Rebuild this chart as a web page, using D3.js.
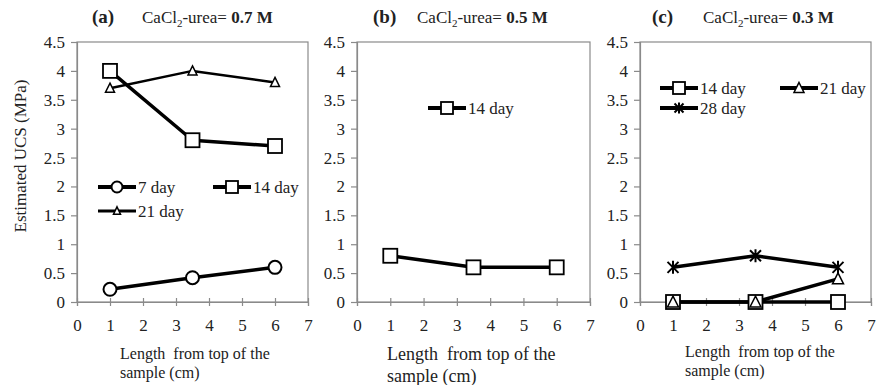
<!DOCTYPE html>
<html>
<head>
<meta charset="utf-8">
<script src="https://cdn.jsdelivr.net/npm/d3@7"></script>
<style>
  body { margin: 0; background: #fff; }
  svg text { font-family: "Liberation Serif", "DejaVu Serif", "Times New Roman", serif; }
</style>
</head>
<body>
<div id="chart"></div>
<script>
// Data
const positions = [1, 3.5, 6];
const xTicks = [0, 1, 2, 3, 4, 5, 6, 7];
const yTicks = [0, 0.5, 1, 1.5, 2, 2.5, 3, 3.5, 4, 4.5];

const a7day = [0.22, 0.42, 0.6];
const a14day = [4.0, 2.8, 2.7];
const a21day = [3.7, 4.0, 3.8];

const b14day = [0.8, 0.6, 0.6];

const c14day = [0, 0, 0];
const c21day = [0, 0, 0.4];
const c28day = [0.6, 0.8, 0.6];

const panels = [
  {
    label: "(a)", conc: "0.7 M", left: 77, right: 308,
    titleX: 92, concX: 142, yAxisLabel: true,
    xLabelX: 120, xLabelY: 354, xLabelSize: 16,
    series: [
      { name: "7 day", values: a7day, marker: "circle", width: 3.5 },
      { name: "14 day", values: a14day, marker: "square", width: 3.5 },
      { name: "21 day", values: a21day, marker: "triangleSmall", width: 2.5 }
    ],
    legend: [
      { s: 0, x: 98, y: 187 }, { s: 1, x: 213, y: 187 }, { s: 2, x: 98, y: 211 }
    ]
  },
  {
    label: "(b)", conc: "0.5 M", left: 357, right: 590,
    titleX: 373, concX: 417, yAxisLabel: false,
    xLabelX: 387, xLabelY: 355, xLabelSize: 18,
    series: [
      { name: "14 day", values: b14day, marker: "square", width: 3.5 }
    ],
    legend: [ { s: 0, x: 428, y: 108 } ]
  },
  {
    label: "(c)", conc: "0.3 M", left: 640, right: 871,
    titleX: 652, concX: 703, yAxisLabel: false,
    xLabelX: 685, xLabelY: 352, xLabelSize: 16,
    series: [
      { name: "14 day", values: c14day, marker: "square", width: 3.5 },
      { name: "21 day", values: c21day, marker: "triangle", width: 3.5 },
      { name: "28 day", values: c28day, marker: "star", width: 3.5 }
    ],
    legend: [
      { s: 0, x: 660, y: 88 }, { s: 1, x: 780, y: 88 }, { s: 2, x: 660, y: 108 }
    ]
  }
];

const W = 877, H = 385;
const plotTop = 42, plotBottom = 302;
const axisColor = "#8a8a8a";
const textColor = "#222";

const svg = d3.select("#chart").append("svg")
  .attr("width", W).attr("height", H);

function drawMarker(g, type, cx, cy, legend) {
  const m = g.append("g").attr("transform", `translate(${cx},${cy})`);
  if (type === "circle") {
    m.append("circle").attr("r", legend ? 5.5 : 6.5)
      .attr("fill", "#fff").attr("stroke", "#000").attr("stroke-width", 2);
  } else if (type === "square") {
    const s = legend ? 12 : 14;
    m.append("rect").attr("x", -s / 2).attr("y", -s / 2).attr("width", s).attr("height", s)
      .attr("fill", "#fff").attr("stroke", "#000").attr("stroke-width", 1.8);
  } else if (type === "triangleSmall" || type === "triangle") {
    const s = type === "triangle" ? (legend ? 10 : 11) : (legend ? 7 : 9);
    const h = s * 0.9;
    m.append("path")
      .attr("d", `M0,${-h / 2 - 1}L${s / 2},${h / 2}L${-s / 2},${h / 2}Z`)
      .attr("fill", "#fff").attr("stroke", "#000").attr("stroke-width", 1.5);
  } else if (type === "star") {
    const r = legend ? 4.5 : 5.5;
    m.append("path")
      .attr("d", `M${-r},${-r}L${r},${r}M${-r},${r}L${r},${-r}M0,${-r - 1}L0,${r + 1}`)
      .attr("stroke", "#000").attr("stroke-width", 2).attr("fill", "none");
  }
}

panels.forEach(p => {
  const x = d3.scaleLinear().domain([0, 7]).range([p.left, p.right]);
  const y = d3.scaleLinear().domain([0, 4.5]).range([plotBottom, plotTop]);
  const g = svg.append("g");

  // plot frame
  g.append("rect")
    .attr("x", x(0)).attr("y", y(4.5))
    .attr("width", x(7) - x(0)).attr("height", y(0) - y(4.5))
    .attr("fill", "none").attr("stroke", axisColor).attr("stroke-width", 1.2);

  // y axis
  const yAxis = g.append("g")
    .attr("transform", `translate(${x(0)},0)`)
    .call(d3.axisLeft(y).tickValues(yTicks).tickSize(6).tickPadding(6)
      .tickFormat(d => String(d)));
  yAxis.select(".domain").attr("stroke", axisColor).attr("stroke-width", 1.2);
  yAxis.selectAll(".tick line").attr("stroke", axisColor).attr("stroke-width", 1.2);
  yAxis.selectAll("text").attr("fill", textColor).style("font-size", "17px");

  // x axis
  const xAxis = g.append("g")
    .attr("transform", `translate(0,${y(0)})`)
    .call(d3.axisBottom(x).tickValues(xTicks).tickSize(4).tickPadding(13)
      .tickFormat(d => String(d)));
  xAxis.select(".domain").attr("stroke", axisColor).attr("stroke-width", 1.2);
  xAxis.selectAll(".tick line").attr("stroke", axisColor).attr("stroke-width", 1.2).attr("y1", -4);
  xAxis.selectAll("text").attr("fill", textColor).style("font-size", "17px");

  // title
  g.append("text").attr("x", p.titleX).attr("y", 23)
    .attr("fill", textColor).style("font-size", "19px").style("font-weight", "bold")
    .text(p.label);
  const t = g.append("text").attr("x", p.concX).attr("y", 23)
    .attr("fill", textColor).style("font-size", "17px");
  t.append("tspan").text("CaCl");
  t.append("tspan").attr("dy", 4).style("font-size", "11px").text("2");
  t.append("tspan").attr("dy", -4).text("-urea= ");
  t.append("tspan").style("font-weight", "bold").text(p.conc);

  // x label
  g.append("text").attr("x", p.xLabelX).attr("y", p.xLabelY + 5)
    .attr("fill", textColor).style("font-size", p.xLabelSize + "px")
    .attr("xml:space", "preserve")
    .text("Length  from top of the");
  g.append("text").attr("x", p.xLabelX).attr("y", p.xLabelY + 5 + p.xLabelSize * 1.2)
    .attr("fill", textColor).style("font-size", p.xLabelSize + "px")
    .text("sample (cm)");

  // lines
  const line = d3.line().x((d, i) => x(positions[i])).y(d => y(d));
  p.series.forEach(s => {
    g.append("path").datum(s.values)
      .attr("d", line).attr("fill", "none")
      .attr("stroke", "#000").attr("stroke-width", s.width)
      .attr("stroke-linejoin", "round");
  });
  p.series.forEach(s => {
    s.values.forEach((v, i) => drawMarker(g, s.marker, x(positions[i]), y(v), false));
  });

  // legend
  p.legend.forEach(l => {
    const s = p.series[l.s];
    g.append("line").attr("x1", l.x).attr("x2", l.x + 38)
      .attr("y1", l.y).attr("y2", l.y)
      .attr("stroke", "#000").attr("stroke-width", s.width + 0.5);
    drawMarker(g, s.marker, l.x + 19, l.y, true);
    g.append("text").attr("x", l.x + 40).attr("y", l.y + 6)
      .attr("fill", textColor).style("font-size", "17px").text(s.name);
  });

  if (p.yAxisLabel) {
    g.append("text")
      .attr("transform", `translate(20,156) rotate(-90)`)
      .attr("text-anchor", "middle").attr("dy", "0.35em")
      .attr("fill", textColor).style("font-size", "17px")
      .text("Estimated UCS (MPa)");
  }
});
</script>
</body>
</html>
